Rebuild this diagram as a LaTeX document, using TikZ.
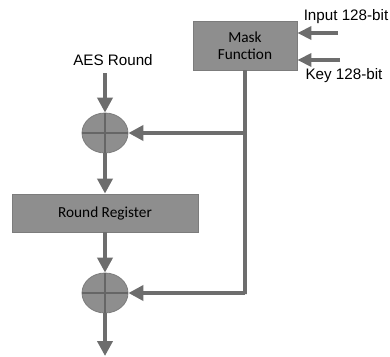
\documentclass[tikz,border=0pt]{standalone}
\usepackage{fontspec}
\setmainfont{Liberation Sans}
\newfontfamily\calib{Carlito}
\usetikzlibrary{arrows.meta,shapes.geometric}
\definecolor{boxfill}{HTML}{8E8E8E}
\definecolor{boxline}{HTML}{7C7C7C}
\definecolor{arr}{HTML}{6D6D6D}
\definecolor{cross}{HTML}{666666}
\begin{document}
\begin{tikzpicture}[x=1pt,y=-1pt,
  boxst/.style={draw=boxline,fill=boxfill,line width=0.8pt,inner sep=0pt,font=\calib\fontsize{15.3}{18}\selectfont,text=black,align=center},
  xorst/.style={ellipse,draw=boxline,fill=boxfill,line width=0.8pt,minimum width=46pt,minimum height=40pt,inner sep=0pt},
  conn/.style={draw=arr,line width=4.8pt,-{Triangle[length=15pt,width=15pt]}},
  inconn/.style={draw=arr,line width=4.5pt,-{Triangle[length=14pt,width=13pt]}},
  plain/.style={draw=arr,line width=4.8pt},
  lbl/.style={font=\fontsize{15.2}{18}\selectfont,text=black,inner sep=0pt}]
\useasboundingbox (0,0) rectangle (390,356);
\node[boxst,minimum width=104pt,minimum height=49pt] (mask) at (245,45.5) {Mask\\[-1pt]Function};
\node[boxst,minimum width=186pt,minimum height=38pt] (rr) at (105,213) {Round Register};
\node[xorst] (c1) at (105,133) {};
\node[xorst] (c2) at (105,293) {};
\draw[draw=cross,line width=1.6pt] (c1.north) -- (c1.south) (c1.west) -- (c1.east);
\draw[draw=cross,line width=1.6pt] (c2.north) -- (c2.south) (c2.west) -- (c2.east);
\node[lbl] (aes) at (113,60) {AES Round};
\node[lbl] (inp) at (346,17) {Input 128-bit};
\node[lbl] (key) at (344,76) {Key 128-bit};
\coordinate (a0) at (105,73);
\coordinate (out) at (105,356);
\coordinate (in1) at (338,33);
\coordinate (in2) at (340,60);
\coordinate (br) at (245,133);
\coordinate (corner) at (245,294);
\draw[conn] (a0) -- (c1.north);
\draw[conn] (c1.south) -- (rr.north);
\draw[conn] (rr.south) -- (c2.north);
\draw[conn] (c2.south) -- (out);
\draw[plain,line join=miter] (mask.south) -- (corner) -- (c2.east -| corner);
\draw[conn] (c2.east -| corner) -- (c2.east);
\draw[conn] (br) -- (c1.east);
\draw[inconn] (in1) -- (in1 -| mask.east);
\draw[inconn] (in2) -- (in2 -| mask.east);
\end{tikzpicture}
\end{document}
